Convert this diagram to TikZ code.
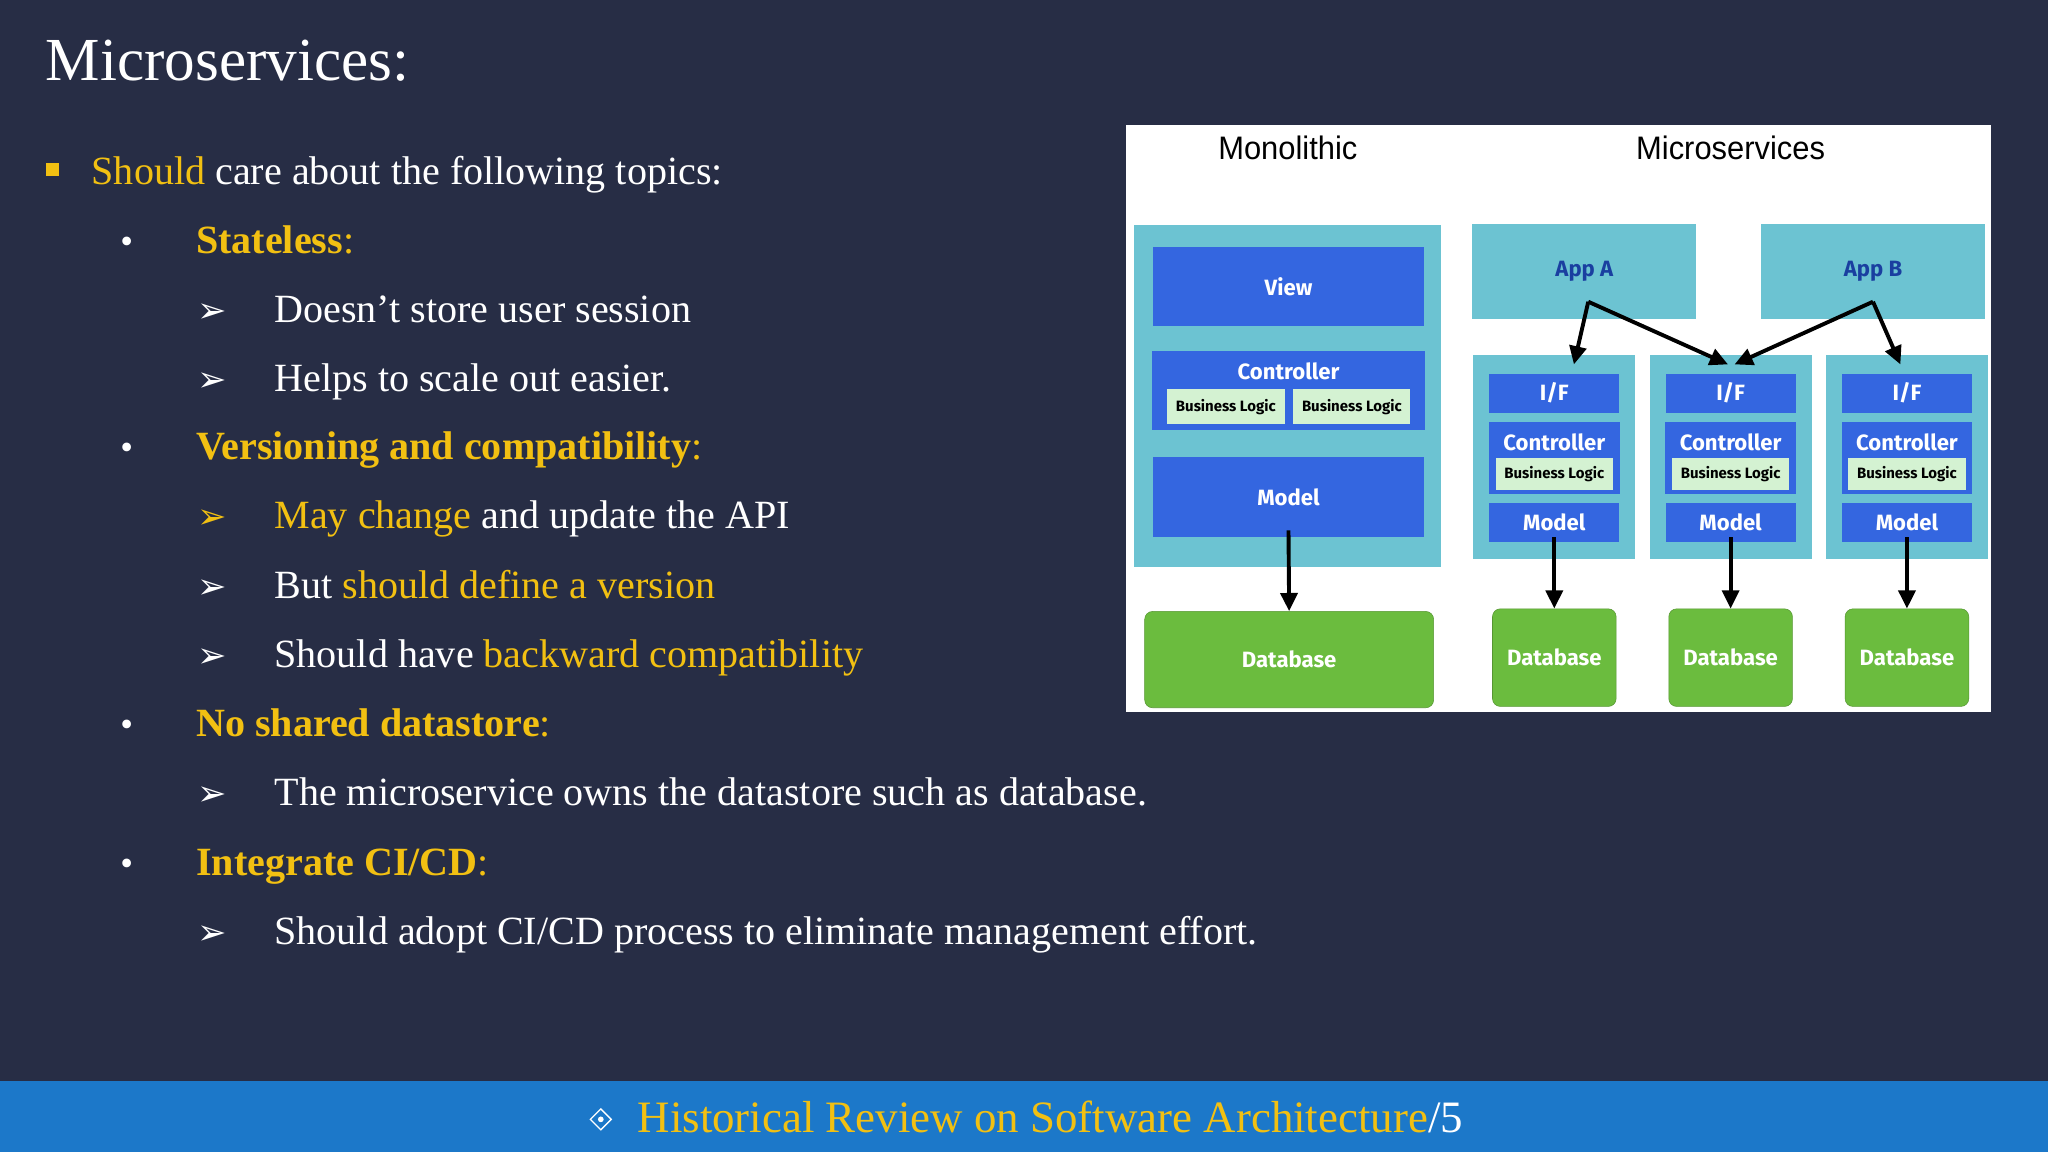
\documentclass[tikz,border=0pt]{standalone}
\usepackage{fontspec}
\setmainfont{Liberation Serif}
\newfontfamily\djsans{DejaVu Sans}
\newfontfamily\fira{Fira Sans}
\newfontfamily\lsans{Liberation Sans}
\usetikzlibrary{arrows.meta}
\definecolor{bg}{HTML}{272D45}
\definecolor{yel}{HTML}{F2C012}
\definecolor{cy}{HTML}{6CC3D2}
\definecolor{bl}{HTML}{3466E0}
\definecolor{lg}{HTML}{D4F2D2}
\definecolor{gr}{HTML}{6BBC3E}
\definecolor{foot}{HTML}{1C78C9}
\definecolor{appt}{HTML}{1A3FA0}
\begin{document}
\begin{tikzpicture}[x=1bp,y=-1bp,
  txt/.style={anchor=base west,text=white,font=\fontsize{30.8}{32}\selectfont,inner sep=0},
  cbox/.style={fill=cy,draw=none},
  bbox/.style={fill=bl,draw=none,text=white,font=\fira\bfseries\fontsize{17}{18}\selectfont},
  blg/.style={fill=lg,draw=none,text=black,font=\fira\bfseries\fontsize{11.5}{12}\selectfont,inner sep=0},
  db/.style={fill=gr,draw=gr!80!black,rounded corners=6,text=white,font=\fira\bfseries\fontsize{17}{18}\selectfont},
  arr/.style={-{Triangle[length=14,width=13]},line width=3,black}]
\useasboundingbox (0,0) rectangle (1568,882);
\fill[bg] (0,0) rectangle (1568,882);
\fill[foot] (0,828) rectangle (1568,882);
% title
\node[txt,font=\fontsize{47}{49}\selectfont] (title) at (35,62) {Microservices:};
% bullets
\fill[yel] (35,125) rectangle (45,135);
\node[txt] (l1) at (70,141) {\textcolor{yel}{Should} care about the following topics:};
\foreach \y/\n in {185/a,343/b,555/c,661/d} \node[txt,font=\fontsize{28}{30}\selectfont] (dot\n) at (92,\y+9) {•};
\node[txt,text=yel] (s1) at (150,194) {\textbf{Stateless}:};
\node[txt,text=yel] (s2) at (150,352) {\textbf{Versioning and compatibility}:};
\node[txt,text=yel] (s3) at (150,564) {\textbf{No shared datastore}:};
\node[txt,text=yel] (s4) at (150,670) {\textbf{Integrate CI/CD}:};
\foreach \y/\c in {238/white,291/white,396/yel,449/white,502/white,608/white,714/white}
  \node[txt,text=\c,font=\djsans\bfseries\fontsize{27}{28}\selectfont] at (151,\y+9) {➢};
\node[txt] (t1) at (210,247) {Doesn{\char"27}t store user session};
\node[txt] (t2) at (210,300) {Helps to scale out easier.};
\node[txt] (t3) at (210,405) {\textcolor{yel}{May change} and update the API};
\node[txt] (t4) at (210,458) {But \textcolor{yel}{should define a version}};
\node[txt] (t5) at (210,511) {Should have \textcolor{yel}{backward compatibility}};
\node[txt] (t6) at (210,617) {The microservice owns the datastore such as database.};
\node[txt] (t7) at (210,723) {Should adopt CI/CD process to eliminate management effort.};
% footer
\draw[white,line width=1] (460,849) -- (468,857) -- (460,865) -- (452,857) -- cycle;
\fill[white] (460,857) circle (2.2);
\node[txt,font=\fontsize{34.5}{36}\selectfont] (ft) at (488,867) {\textcolor{yel}{Historical Review on Software Architecture}/5};
% diagram panel
\fill[white] (862,96) rectangle (1524,545);
\node[font=\lsans\fontsize{25}{26}\selectfont,xscale=0.95] (mono) at (986,113) {Monolithic};
\node[font=\lsans\fontsize{25}{26}\selectfont,xscale=0.95] (micro) at (1325,113) {Microservices};
\fill[cy] (868,172) rectangle (1103,434);
\node[bbox,minimum width=209,minimum height=61] (view) at (986.5,219.5) {View};
\fill[bl] (882,269) rectangle (1091,329);
\node[text=white,font=\fira\bfseries\fontsize{17}{18}\selectfont] (ctrl) at (986.5,284) {Controller};
\node[blg,minimum width=91,minimum height=27] (bl1) at (938.5,311.5) {Business Logic};
\node[blg,minimum width=90,minimum height=27] (bl2) at (1035,311.5) {Business Logic};
\node[bbox,minimum width=209,minimum height=61] (model) at (986.5,380.5) {Model};
\node[db,minimum width=222,minimum height=74] (mdb) at (987,505) {Database};
\draw[arr] (model.south) ++(0,-5) -- (mdb.north);
% apps
\node[cbox,minimum width=172,minimum height=73,text=appt,font=\fira\bfseries\fontsize{17}{18}\selectfont] (appA) at (1213,208) {App A};
\node[cbox,minimum width=172,minimum height=73,text=appt,font=\fira\bfseries\fontsize{17}{18}\selectfont] (appB) at (1434,208) {App B};
\foreach \i/\cx in {1/1190,2/1325,3/1460}{
  \fill[cy] (\cx-62,272) rectangle (\cx+62,428);
  \node[bbox,minimum width=100,minimum height=30] (if\i) at (\cx,301) {I/F};
  \fill[bl] (\cx-50,323) rectangle (\cx+50,378);
  \node[text=white,font=\fira\bfseries\fontsize{17}{18}\selectfont] (c\i) at (\cx,339) {Controller};
  \node[blg,minimum width=90,minimum height=25] (b\i) at (\cx,363) {Business Logic};
  \node[bbox,minimum width=100,minimum height=30] (mod\i) at (\cx,400) {Model};
  \node[db,minimum width=95,minimum height=75] (db\i) at (\cx,503.5) {Database};
  \draw[arr] (mod\i.south) ++(0,-4) -- (db\i.north);
}
\coordinate (pa) at (1216,231);
\coordinate (pb) at (1434,231);
\draw[arr] (pa) -- (1205,279);
\draw[arr] (pa) -- (1323,279);
\draw[arr] (pb) -- (1328,279);
\draw[arr] (pb) -- (1455,279);
\end{tikzpicture}
\end{document}
